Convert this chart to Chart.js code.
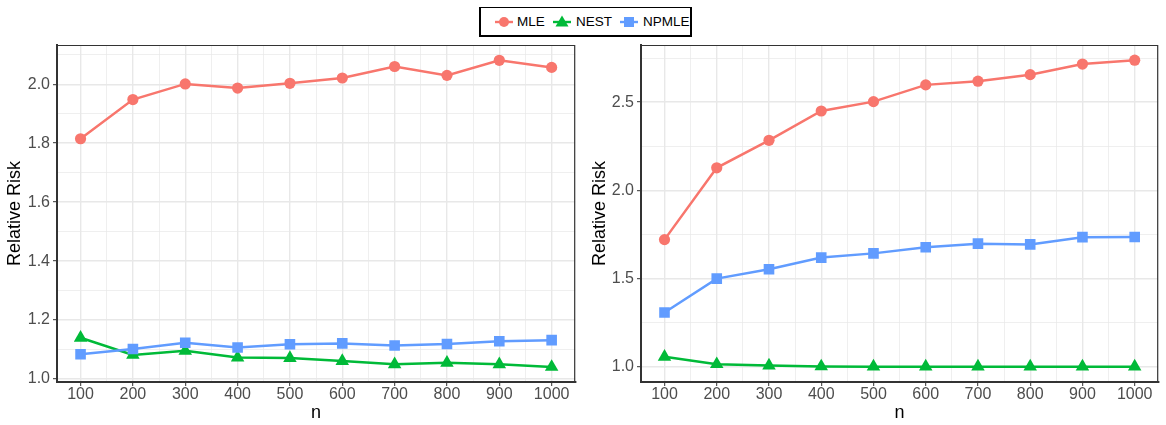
<!DOCTYPE html>
<html>
<head>
<meta charset="utf-8">
<script src="https://cdn.jsdelivr.net/npm/chart.js@4/dist/chart.umd.min.js"></script>
<style>
  html, body { margin: 0; padding: 0; background: #ffffff; }
  body { width: 1166px; height: 425px; position: relative; overflow: hidden;
         font-family: "Liberation Sans", Arial, sans-serif; }
  .panel { position: absolute; top: 0; width: 583px; height: 425px; }
  #legend { position: absolute; left: 479px; top: 7px; width: 209px; height: 27px;
            border-style: solid; border-color: #000; border-width: 1px 2px 2px 2px; background: #fff; }
  .key { position: absolute; top: 7px; width: 18px; height: 14px; }
  .lab { position: absolute; top: 6px; font-size: 13.5px; line-height: 16px; color: #000; white-space: nowrap; }
</style>
</head>
<body>
<div class="panel" style="left:0px"><canvas id="left" width="583" height="425"></canvas></div>
<div class="panel" style="left:583px"><canvas id="right" width="583" height="425"></canvas></div>
<div id="legend"></div>

<script>
// Sample sizes on the x axis
const nValues = [100, 200, 300, 400, 500, 600, 700, 800, 900, 1000];

// Estimators
const seriesNames = ["MLE", "NEST", "NPMLE"];
const seriesColors = ["#F8766D", "#00BA38", "#619CFF"];

// Left panel: relative risk by n
const mleLeft   = [1.815, 1.948, 2.001, 1.987, 2.003, 2.021, 2.060, 2.030, 2.081, 2.057];
const nestLeft  = [1.140, 1.082, 1.096, 1.073, 1.071, 1.061, 1.050, 1.055, 1.050, 1.041];
const npmleLeft = [1.084, 1.102, 1.123, 1.107, 1.118, 1.121, 1.114, 1.119, 1.128, 1.132];

// Right panel: relative risk by n
const mleRight   = [1.721, 2.128, 2.284, 2.450, 2.503, 2.598, 2.619, 2.656, 2.716, 2.738];
const nestRight  = [1.057, 1.015, 1.007, 1.002, 1.001, 1.001, 1.001, 1.001, 1.001, 1.001];
const npmleRight = [1.308, 1.500, 1.553, 1.619, 1.643, 1.678, 1.698, 1.694, 1.735, 1.736];

// Axis ticks (major = labelled, minor = unlabelled grid lines)
const xTicks = [100, 200, 300, 400, 500, 600, 700, 800, 900, 1000];
const xMinorTicks = [150, 250, 350, 450, 550, 650, 750, 850, 950];
const leftYTicks = [1.0, 1.2, 1.4, 1.6, 1.8, 2.0];
const leftYMinorTicks = [1.1, 1.3, 1.5, 1.7, 1.9, 2.1];
const rightYTicks = [1.0, 1.5, 2.0, 2.5];
const rightYMinorTicks = [1.25, 1.75, 2.25, 2.75];

const pointStyles = ["circle", "triangle", "rect"];
const pointRadii = [5.6, 7.8, 7.5];
const drawOrder = [2, 1, 0];

const GRID = "#e8e8e8";
const DARK = "#333333";
const TICK_TEXT = "#4d4d4d";
const FONT = "'Liberation Sans', Arial, sans-serif";

function isMajor(v, majors) {
  return majors.some(m => Math.abs(m - v) < 1e-6);
}

function buildTicks(majors, minors) {
  return majors.concat(minors).sort((a, b) => a - b).map(v => ({ value: v }));
}

// Top and right edges of the panel frame
const framePlugin = {
  id: "frame",
  afterDraw(chart) {
    const { ctx, chartArea: a } = chart;
    ctx.save();
    ctx.strokeStyle = DARK;
    ctx.lineWidth = 1.2;
    ctx.beginPath();
    ctx.moveTo(a.left, a.top + 0.5);
    ctx.lineTo(a.right - 0.5, a.top + 0.5);
    ctx.lineTo(a.right - 0.5, a.bottom);
    ctx.stroke();
    ctx.restore();
  }
};

function makeChart(id, series, yMin, yMax, yMajors, yMinors, yLabelFixed, yWidth, padRight, yTitlePad) {
  const datasets = series.map((vals, i) => ({
    label: seriesNames[i],
    data: nValues.map((n, j) => ({ x: n, y: vals[j] })),
    borderColor: seriesColors[i],
    backgroundColor: seriesColors[i],
    pointBackgroundColor: seriesColors[i],
    pointBorderWidth: 0,
    pointStyle: pointStyles[i],
    pointRadius: pointRadii[i],
    borderWidth: 2.5,
    tension: 0,
    order: drawOrder[i]
  }));

  return new Chart(document.getElementById(id), {
    type: "line",
    data: { datasets },
    plugins: [framePlugin],
    options: {
      responsive: false,
      animation: false,
      events: [],
      layout: { padding: { top: 45, right: padRight, left: 0, bottom: 0 } },
      plugins: { legend: { display: false }, tooltip: { enabled: false } },
      scales: {
        x: {
          type: "linear",
          min: 55,
          max: 1045,
          afterFit: s => { s.height = 43; },
          afterBuildTicks: s => { s.ticks = buildTicks(xTicks, xMinorTicks); },
          grid: {
            color: GRID,
            lineWidth: c => isMajor(c.tick.value, xTicks) ? 1.4 : 0.7,
            drawTicks: true,
            tickLength: 4,
            tickWidth: 1,
            tickColor: c => isMajor(c.tick.value, xTicks) ? DARK : "rgba(0,0,0,0)"
          },
          border: { display: true, color: DARK, width: 2 },
          ticks: {
            autoSkip: false,
            maxRotation: 0,
            padding: 1,
            color: TICK_TEXT,
            font: { family: FONT, size: 16, lineHeight: 1.0 },
            callback: v => isMajor(v, xTicks) ? String(v) : ""
          },
          title: {
            display: true,
            text: "n",
            color: "#000",
            font: { family: FONT, size: 18, lineHeight: 1.2 },
            padding: { top: 0, bottom: 1 }
          }
        },
        y: {
          type: "linear",
          min: yMin,
          max: yMax,
          afterFit: s => { s.width = yWidth; },
          afterBuildTicks: s => { s.ticks = buildTicks(yMajors, yMinors); },
          grid: {
            color: GRID,
            lineWidth: c => isMajor(c.tick.value, yMajors) ? 1.4 : 0.7,
            drawTicks: true,
            tickLength: 4,
            tickWidth: 1,
            tickColor: c => isMajor(c.tick.value, yMajors) ? DARK : "rgba(0,0,0,0)"
          },
          border: { display: true, color: DARK, width: 2 },
          ticks: {
            autoSkip: false,
            padding: 3,
            color: TICK_TEXT,
            font: { family: FONT, size: 16, lineHeight: 1.0 },
            callback: v => isMajor(v, yMajors) ? v.toFixed(yLabelFixed) : ""
          },
          title: {
            display: true,
            text: "Relative Risk",
            color: "#000",
            font: { family: FONT, size: 18, lineHeight: 1.2 },
            padding: { top: yTitlePad, bottom: 0 }
          }
        }
      }
    }
  });
}

makeChart("left", [mleLeft, nestLeft, npmleLeft], 0.990, 2.133,
          leftYTicks, leftYMinorTicks, 1, 57, 2, 4);
makeChart("right", [mleRight, nestRight, npmleRight], 0.914, 2.824,
          rightYTicks, rightYMinorTicks, 1, 58, 1, 6);

// Legend: line segment with marker, then series name
const legendKeyX = [14, 72, 139];
const legendTextX = [36, 95, 162];
const legend = document.getElementById("legend");
const svgNS = "http://www.w3.org/2000/svg";
seriesNames.forEach((name, i) => {
  const svg = document.createElementNS(svgNS, "svg");
  svg.setAttribute("class", "key");
  svg.setAttribute("width", "18");
  svg.setAttribute("height", "14");
  svg.style.left = legendKeyX[i] + "px";
  const line = document.createElementNS(svgNS, "line");
  line.setAttribute("x1", "0"); line.setAttribute("x2", "18");
  line.setAttribute("y1", "7"); line.setAttribute("y2", "7");
  line.setAttribute("stroke", seriesColors[i]);
  line.setAttribute("stroke-width", "2.4");
  svg.appendChild(line);
  let mark;
  if (pointStyles[i] === "circle") {
    mark = document.createElementNS(svgNS, "circle");
    mark.setAttribute("cx", "9"); mark.setAttribute("cy", "7"); mark.setAttribute("r", "5");
  } else if (pointStyles[i] === "triangle") {
    mark = document.createElementNS(svgNS, "polygon");
    mark.setAttribute("points", "9,0.5 15.5,11.5 2.5,11.5");
  } else {
    mark = document.createElementNS(svgNS, "rect");
    mark.setAttribute("x", "4"); mark.setAttribute("y", "2");
    mark.setAttribute("width", "10"); mark.setAttribute("height", "10");
  }
  mark.setAttribute("fill", seriesColors[i]);
  svg.appendChild(mark);
  legend.appendChild(svg);

  const lab = document.createElement("span");
  lab.className = "lab";
  lab.style.left = legendTextX[i] + "px";
  lab.textContent = name;
  legend.appendChild(lab);
});
</script>
</body>
</html>
